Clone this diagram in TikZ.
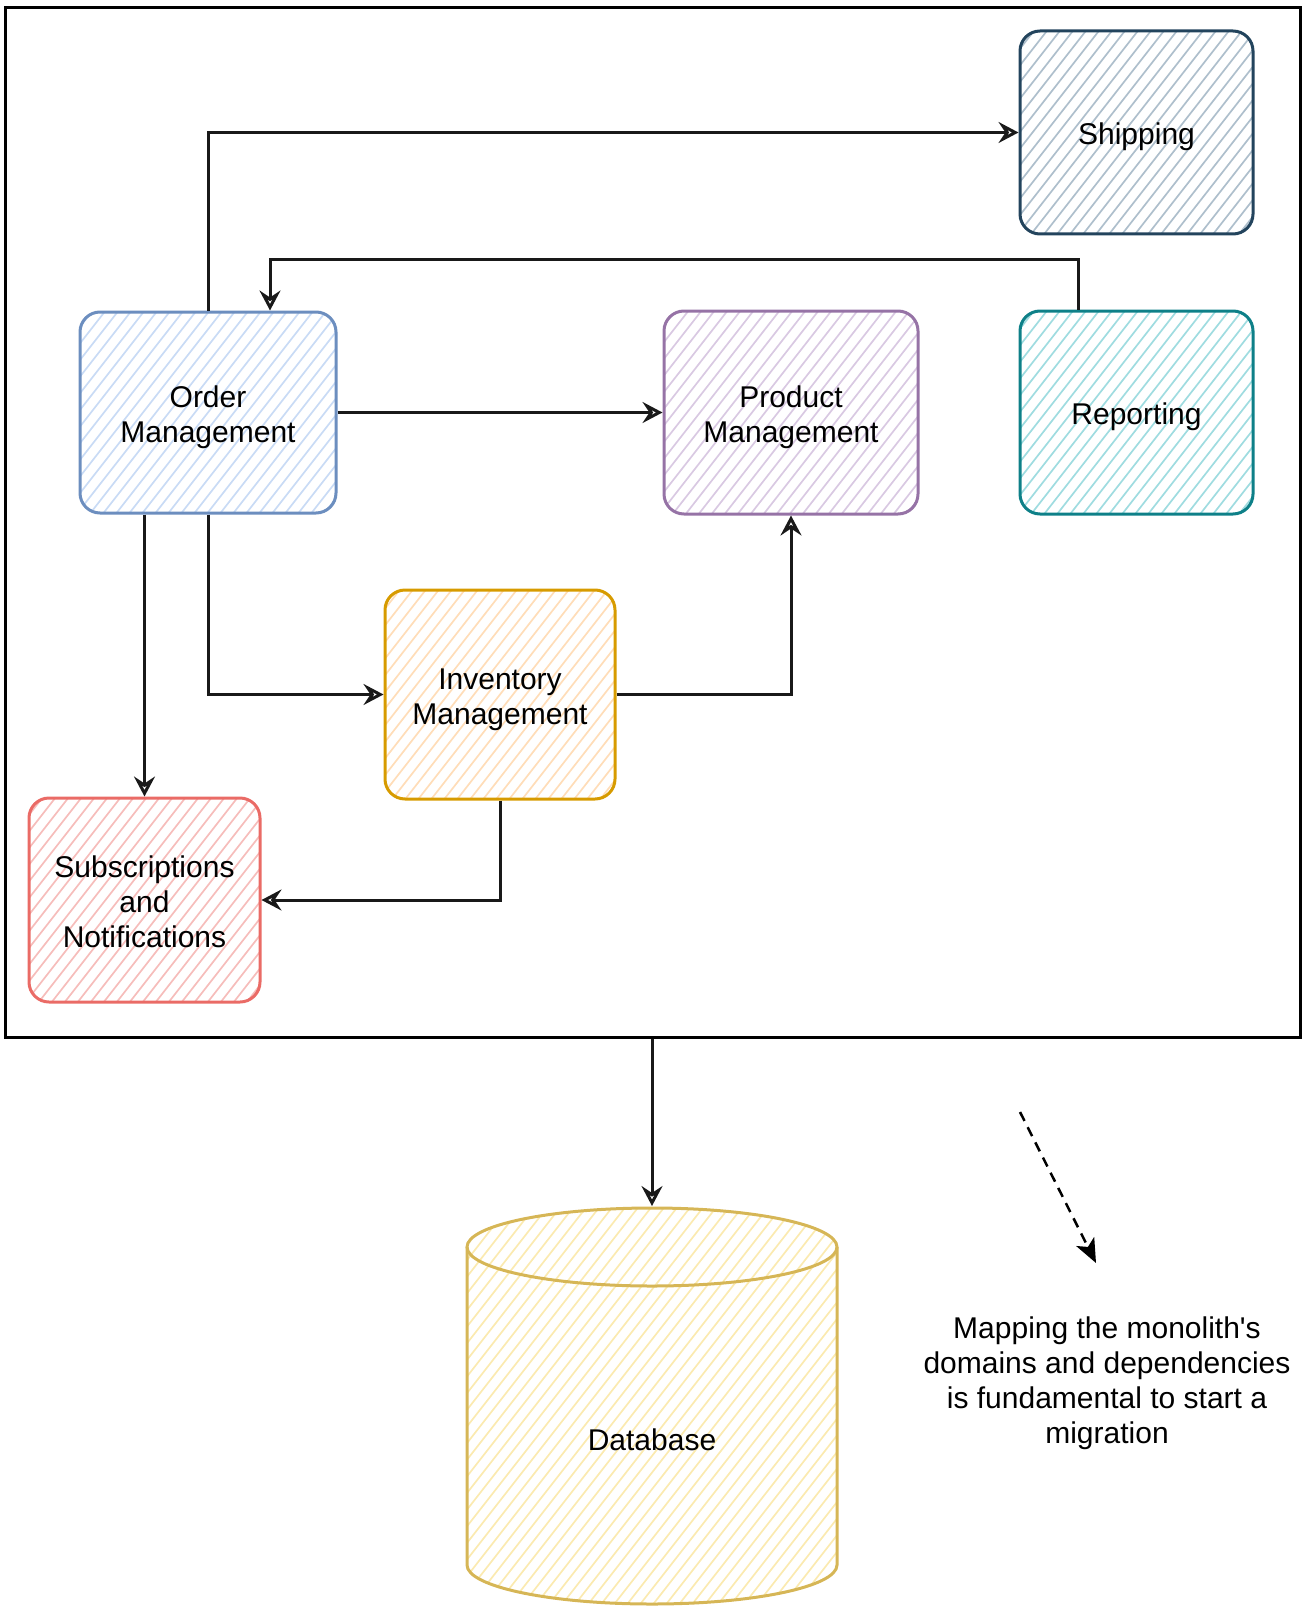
\documentclass[tikz,border=0pt]{standalone}
\usepackage{fontspec}
\newfontfamily\diafont{Liberation Sans}
\usetikzlibrary{arrows.meta,calc}
\definecolor{ordS}{HTML}{6C8EBF}\definecolor{ordF}{HTML}{C9DBF5}
\definecolor{prdS}{HTML}{9673A6}\definecolor{prdF}{HTML}{D9C9E2}
\definecolor{repS}{HTML}{0E8088}\definecolor{repF}{HTML}{9FDCE0}
\definecolor{shpS}{HTML}{23445D}\definecolor{shpF}{HTML}{AEBFCC}
\definecolor{invS}{HTML}{D79B00}\definecolor{invF}{HTML}{FFDDB8}
\definecolor{subS}{HTML}{EA6B66}\definecolor{subF}{HTML}{F6BDBB}
\definecolor{dbS}{HTML}{D6B656}\definecolor{dbF}{HTML}{FBEAB0}
\newcommand\lowtext[2][-5pt]{\raisebox{#1}[\height][\depth]{\begin{tabular}{@{}c@{}}#2\end{tabular}}}
\tikzset{
  hatch/.style={path picture={
    \foreach \i in {-45,...,45}{
      \draw[#1, line width=1.7pt]
        ([xshift=\i*13pt]path picture bounding box.center) ++(-128:500pt) -- ++(52:1000pt);
    }}},
  box/.style 2 args={draw=#1, line width=3pt, rounded corners=20pt, hatch=#2,
    align=center, font=\diafont\fontsize{30}{35}\selectfont, text=black},
  arr/.style={draw=black!90, line width=3pt,
    -{Stealth[open, length=20pt, width=21pt, inset=7pt, line width=3pt]}},
  lbl/.style={align=center, font=\diafont\fontsize{30}{35}\selectfont, text=black}
}
\begin{document}
\begin{tikzpicture}[x=1pt, y=-1pt]
\useasboundingbox (0,0) rectangle (1304,1613);
% outer frame
\node (frame) [draw=black, line width=3pt, minimum width=1295pt, minimum height=1029pt,
  inner sep=0pt] at (652.5,522.5) {};
% boxes
\node (ship) [box={shpS}{shpF}, minimum width=233pt, minimum height=203pt] at (1136.5,132.5) {\lowtext{Shipping}};
\node (rep)  [box={repS}{repF}, minimum width=233pt, minimum height=203pt] at (1136.5,412.5) {\lowtext{Reporting}};
\node (prod) [box={prdS}{prdF}, minimum width=254pt, minimum height=203pt] at (791,412.5) {\lowtext{Product\\Management}};
\node (order)[box={ordS}{ordF}, minimum width=256pt, minimum height=201pt] at (208,412.5) {\lowtext{Order\\Management}};
\node (inv)  [box={invS}{invF}, minimum width=230pt, minimum height=209pt] at (500,694.5) {\lowtext{Inventory\\Management}};
\node (subs) [box={subS}{subF}, minimum width=231pt, minimum height=204pt] at (144.5,900) {\lowtext{Subscriptions\\and\\Notifications}};
% database cylinder
\path[hatch=dbF] (467,1247) -- (467,1565) arc[start angle=180, end angle=0, x radius=185, y radius=39]
  -- (837,1247) arc[start angle=0, end angle=-180, x radius=185, y radius=39] -- cycle;
\draw[dbS, line width=3pt] (467,1247) -- (467,1565) arc[start angle=180, end angle=0, x radius=185, y radius=39]
  -- (837,1247);
\draw[dbS, line width=3pt] (652,1247) ellipse[x radius=185, y radius=39];
\node (db) [lbl] at (652,1440) {Database};
\coordinate (dbtop) at (652,1206);
% connectors
\draw[arr] (order.north) |- (ship.west);
\draw[arr] ([xshift=-58.5pt]rep.north) -- ++(0,-50) -| ([xshift=62pt]order.north);
\draw[arr] (order.east) -- (prod.west);
\draw[arr] (order.south) |- (inv.west);
\draw[arr] (subs.north |- order.south) -- (subs.north);
\draw[arr] (inv.east) -| (prod.south);
\draw[arr] (inv.south) |- (subs.east);
\draw[arr] (dbtop |- frame.south) -- (dbtop);
% note
\coordinate (ds) at (1020,1112);
\coordinate (de) at (1096,1263);
\draw[line width=2.5pt, dash pattern=on 10pt off 7pt, -{Stealth[length=24pt, width=20pt, inset=6pt]}] (ds) -- (de);
\node (note) [lbl] at (1107,1383) {Mapping the monolith's\\domains and dependencies\\is fundamental to start a\\migration};
\end{tikzpicture}
\end{document}
